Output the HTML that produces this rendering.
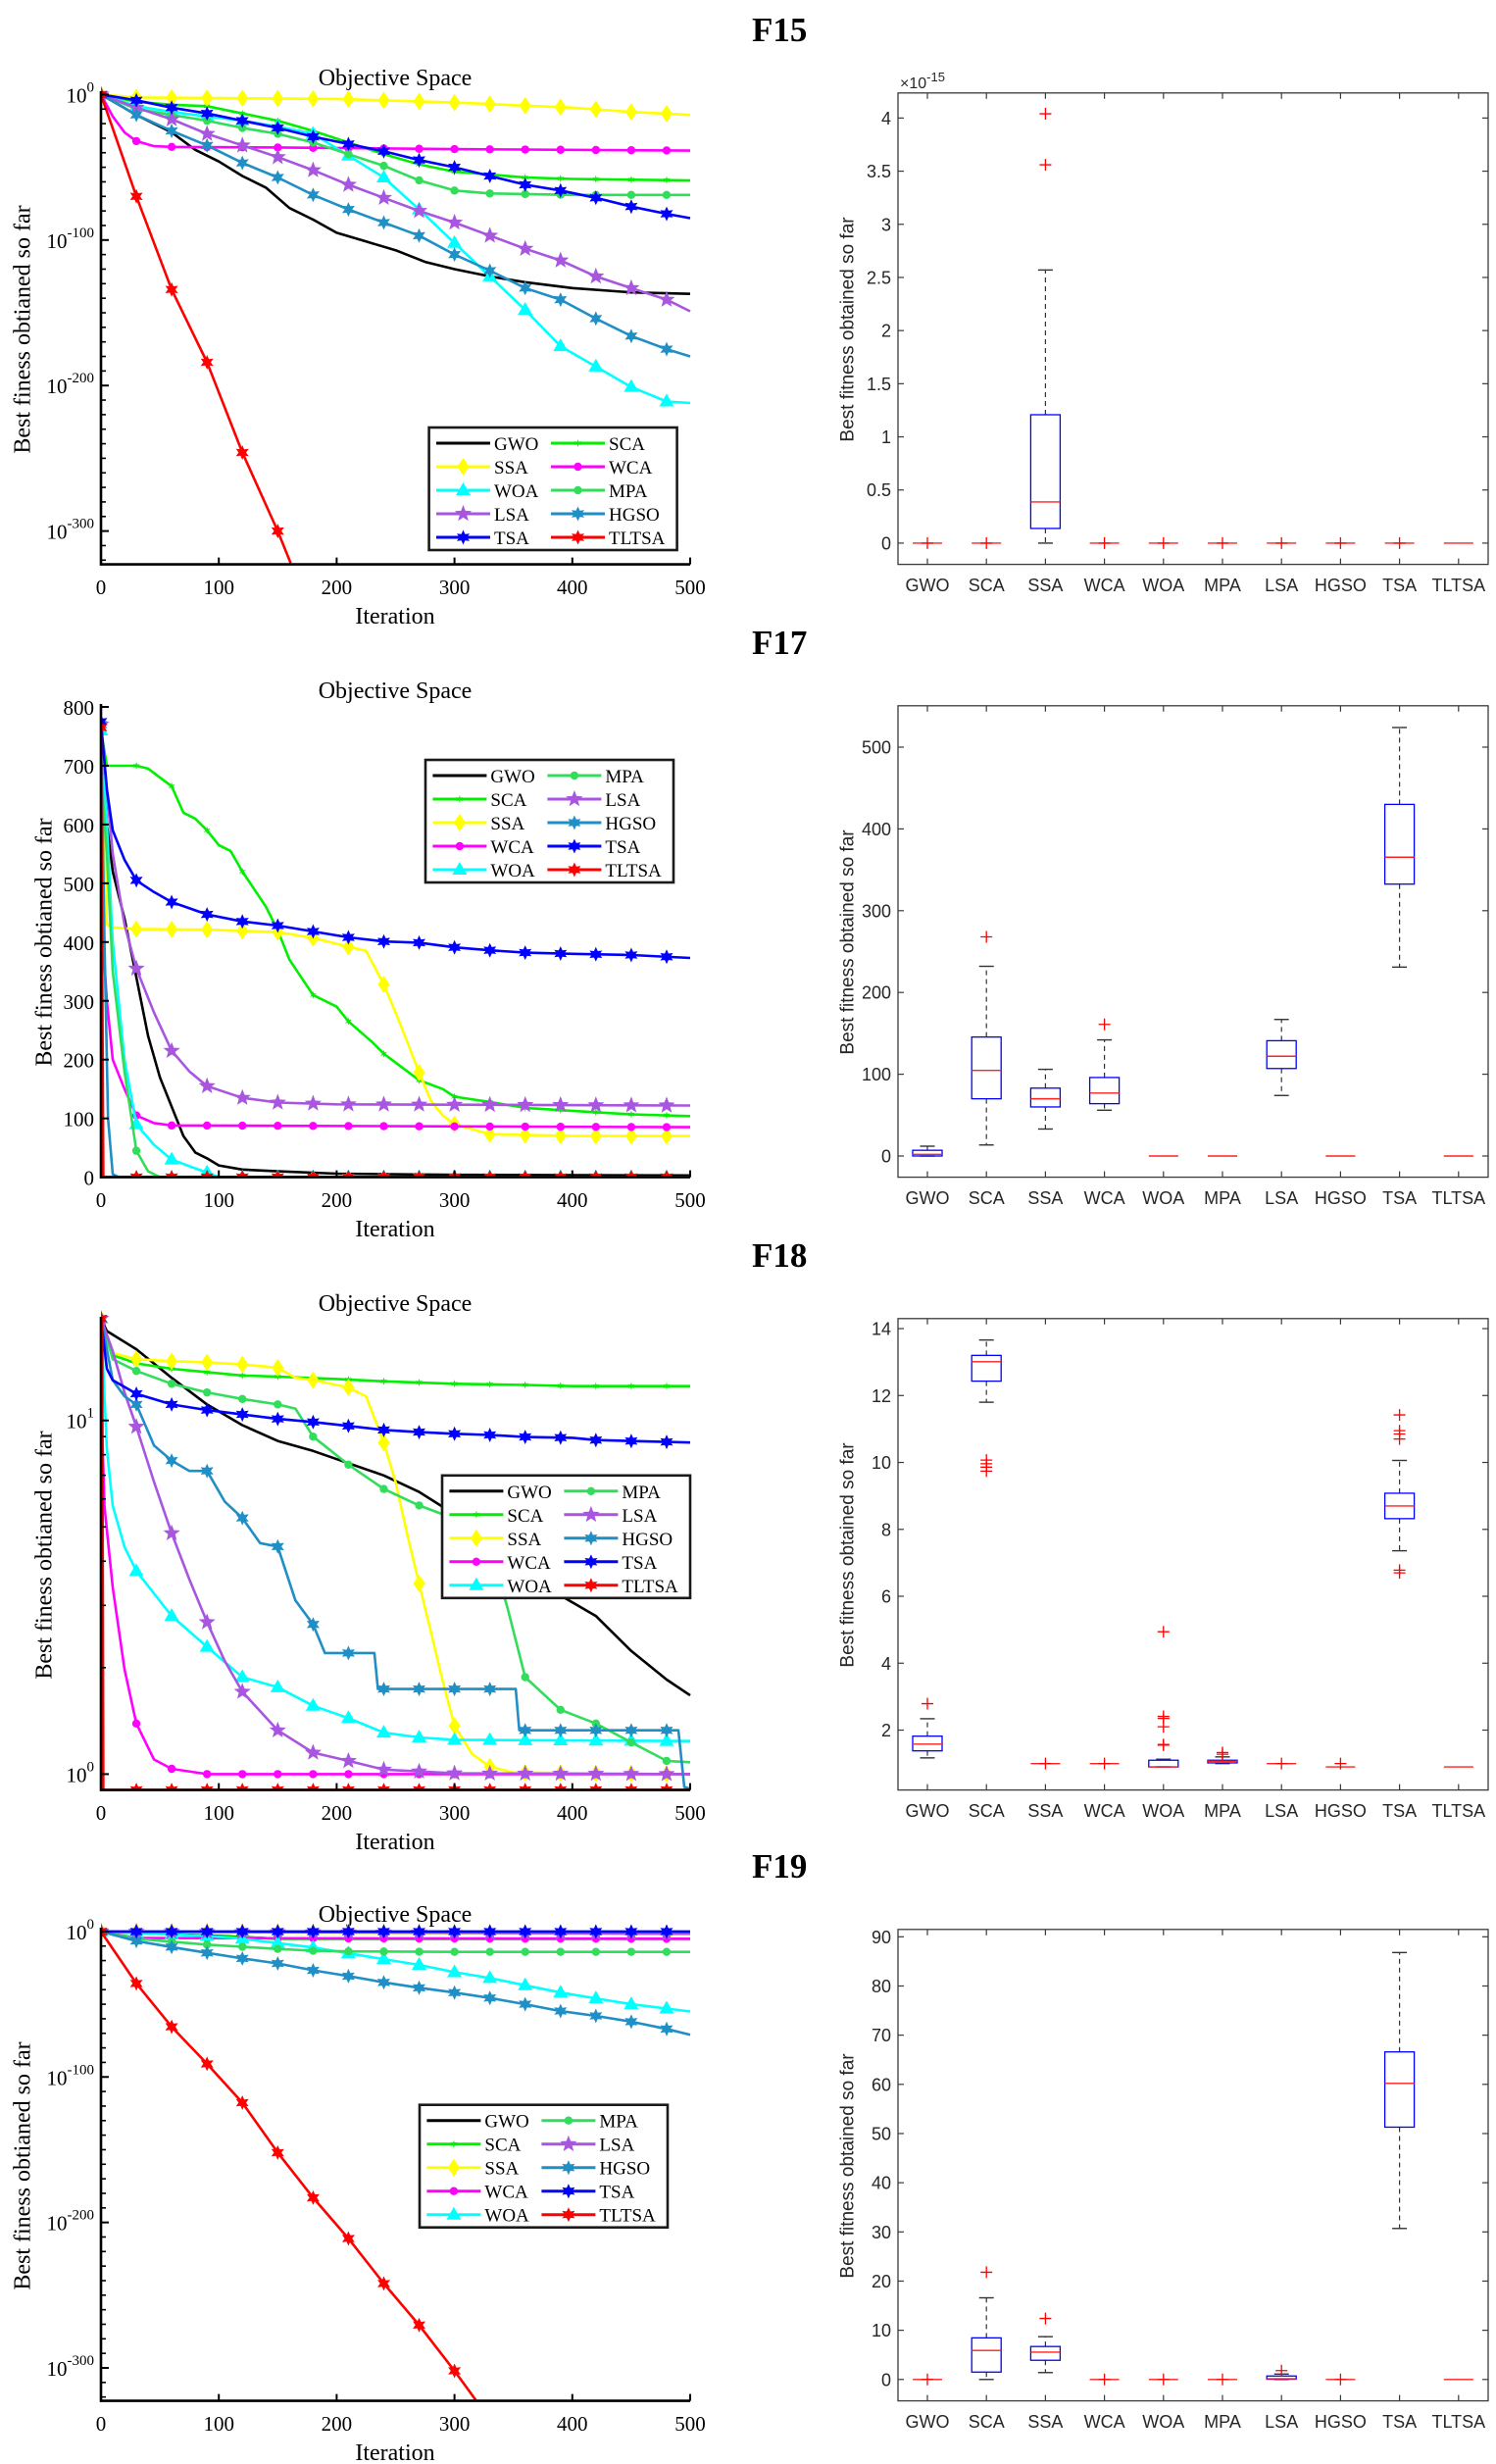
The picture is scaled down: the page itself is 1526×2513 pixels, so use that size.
<!DOCTYPE html>
<html><head><meta charset="utf-8"><title>Convergence curves and boxplots F15-F19</title>
<style>
html,body{margin:0;padding:0;background:#fff;}
body{width:1526px;height:2513px;overflow:hidden;}
svg{display:block;}
.tnr{font-family:"Liberation Serif",serif;}
.ari{font-family:"Liberation Sans",sans-serif;}
</style></head>
<body>
<svg id="root" width="1526" height="2513" viewBox="0 0 1526 2513" xmlns="http://www.w3.org/2000/svg"></svg>
<script>
// ---------- shared categories ----------
const CATS = ['GWO','SCA','SSA','WCA','WOA','MPA','LSA','HGSO','TSA','TLTSA'];
const X_TICKS = [0,100,200,300,400,500];

// ---------- F15 convergence (iteration, best fitness) ----------
const F15_GWO = [[0,1],[30,1e-14],[60,1e-26],[80,1e-38],[100,1e-46],[120,1e-56],[140,1e-64],[160,1e-78],[180,1e-86],[200,1e-95],[225,1e-101],[250,1e-107],[275,1e-115],[300,1e-120],[330,1e-125],[360,1e-129],[400,1e-133],[450,1e-136],[500,1e-137]];
const F15_SCA = [[0,1],[30,1e-5],[60,1e-7],[90,1e-8],[120,1e-13],[150,1e-18],[180,1e-25],[210,1e-33],[240,1e-41],[270,1e-48],[300,1e-53],[330,1e-55],[360,1e-57],[400,1e-58],[500,1e-59]];
const F15_SSA = [[0,1],[30,1e-2],[100,3e-3],[200,1e-3],[300,3e-6],[400,1e-9],[450,1e-12],[500,1e-14]];
const F15_WCA = [[0,1],[10,1e-15],[20,1e-26],[30,1e-32],[45,3e-36],[60,1e-36],[150,4e-37],[300,3e-38],[500,3e-39]];
const F15_WOA = [[0,1],[30,1e-8],[60,1e-12],[90,1e-15],[120,1e-18],[150,1e-22],[180,1e-27],[210,1e-42],[240,1e-57],[270,1e-79],[300,1e-102],[330,1e-125],[360,1e-148],[390,1e-173],[420,1e-187],[450,1e-201],[480,1e-211],[500,1e-212]];
const F15_MPA = [[0,1],[30,1e-10],[60,1e-14],[90,1e-18],[120,1e-23],[150,1e-27],[180,1e-33],[210,1e-41],[240,1e-49],[270,1e-59],[300,1e-66],[330,1e-68],[400,1e-69],[500,1e-69]];
const F15_LSA = [[0,1],[30,1e-9],[60,1e-17],[90,1e-27],[120,1e-35],[150,1e-43],[180,1e-52],[210,1e-62],[240,1e-71],[270,1e-80],[300,1e-88],[330,1e-97],[360,1e-106],[390,1e-114],[420,1e-125],[450,1e-133],[480,1e-141],[500,1e-149]];
const F15_HGSO = [[0,1],[30,1e-14],[60,1e-25],[90,1e-35],[120,1e-47],[150,1e-57],[180,1e-69],[210,1e-79],[240,1e-88],[270,1e-97],[300,1e-110],[330,1e-121],[360,1e-133],[390,1e-141],[420,1e-154],[450,1e-166],[480,1e-175],[500,1e-180]];
const F15_TSA = [[0,1],[30,1e-4],[60,1e-9],[90,1e-13],[120,1e-18],[150,1e-23],[180,1e-29],[210,1e-34],[240,1e-39],[270,1e-45],[300,1e-50],[330,1e-56],[360,1e-62],[390,1e-66],[420,1e-71],[450,1e-77],[480,1e-82],[500,1e-85]];
const F15_TLTSA = [[0,1],[30,1e-70],[60,1e-134],[90,1e-184],[120,1e-246],[150,1e-300],[161,1e-322]];

// ---------- F17 convergence ----------
const F17_GWO = [[0,770],[5,600],[10,520],[20,440],[30,340],[40,240],[50,170],[60,120],[70,70],[80,42],[90,32],[100,20],[120,13],[150,10],[200,6],[300,4],[500,3]];
const F17_SCA = [[0,760],[5,700],[30,700],[40,695],[50,680],[60,665],[70,620],[80,610],[90,590],[100,565],[110,555],[120,520],[130,490],[140,460],[150,420],[160,370],[170,340],[180,310],[200,290],[210,265],[230,230],[240,210],[260,180],[270,165],[290,150],[300,137],[330,128],[360,118],[400,113],[450,107],[500,104]];
const F17_SSA = [[0,770],[5,430],[10,425],[30,422],[90,421],[120,419],[150,417],[180,407],[210,392],[225,385],[240,328],[250,280],[260,230],[270,178],[280,130],[290,105],[300,90],[330,73],[400,70],[500,70]];
const F17_WCA = [[0,450],[5,300],[10,200],[20,150],[30,105],[45,92],[60,88],[500,85]];
const F17_WOA = [[0,760],[5,600],[10,400],[20,200],[30,90],[45,55],[60,30],[80,15],[90,8],[100,0],[500,0]];
const F17_MPA = [[0,690],[5,550],[10,350],[20,180],[30,45],[40,10],[50,0],[500,0]];
const F17_LSA = [[0,770],[10,550],[20,430],[30,355],[45,280],[60,215],[75,180],[90,155],[120,135],[150,127],[200,124],[500,122]];
const F17_HGSO = [[0,770],[3,400],[6,100],[10,5],[15,0],[500,0]];
const F17_TSA = [[0,775],[5,660],[10,590],[20,540],[30,505],[45,485],[60,468],[90,447],[120,435],[150,428],[180,418],[210,408],[240,401],[270,399],[300,391],[330,386],[360,382],[400,380],[450,378],[500,373]];
const F17_TLTSA = [[0,765],[2,0],[500,0]];

// ---------- F18 convergence ----------
const F18_GWO = [[0,19.4],[5,17.9],[30,15.9],[60,13.2],[90,11.1],[120,9.7],[150,8.75],[180,8.2],[210,7.57],[240,6.99],[270,6.28],[300,5.43],[330,4.57],[360,3.75],[390,3.2],[420,2.8],[450,2.23],[480,1.85],[500,1.67]];
const F18_SCA = [[0,19.4],[10,15.3],[30,14.5],[60,14.0],[90,13.7],[120,13.4],[150,13.3],[200,13.1],[240,12.9],[300,12.7],[360,12.6],[400,12.5],[500,12.5]];
const F18_SSA = [[0,19.4],[10,15.5],[30,14.9],[60,14.7],[90,14.6],[120,14.4],[150,14.1],[165,13.2],[180,13.0],[210,12.4],[225,11.7],[240,8.65],[250,6.7],[260,4.75],[270,3.46],[280,2.52],[290,1.83],[300,1.37],[315,1.14],[330,1.05],[350,1.01],[500,1.0]];
const F18_WCA = [[0,12.0],[3,5.7],[10,3.37],[20,1.98],[30,1.39],[45,1.1],[60,1.035],[90,1.0],[500,1.0]];
const F18_WOA = [[0,19.4],[5,8.3],[10,5.74],[20,4.39],[30,3.75],[60,2.8],[90,2.29],[120,1.88],[150,1.76],[180,1.56],[210,1.44],[240,1.31],[270,1.27],[300,1.25],[500,1.24]];
const F18_MPA = [[0,19.4],[10,14.9],[30,13.8],[60,12.7],[90,12.0],[120,11.5],[150,11.1],[165,10.8],[180,9.0],[210,7.5],[240,6.4],[270,5.75],[290,5.43],[330,4.39],[345,2.95],[360,1.88],[390,1.52],[420,1.39],[450,1.23],[480,1.09],[500,1.08]];
const F18_LSA = [[0,19.4],[10,15.7],[20,12.0],[30,9.6],[45,6.7],[60,4.8],[75,3.55],[90,2.69],[105,2.09],[120,1.71],[150,1.33],[180,1.15],[210,1.09],[240,1.03],[300,1.005],[500,1.0]];
const F18_HGSO = [[0,19.4],[10,13.0],[20,11.7],[30,11.1],[45,8.5],[60,7.7],[75,7.2],[90,7.2],[105,5.9],[120,5.3],[135,4.5],[150,4.4],[165,3.1],[180,2.65],[190,2.2],[232,2.2],[235,1.74],[352,1.74],[355,1.33],[490,1.33],[495,0.92],[500,0.91]];
const F18_TSA = [[0,19.4],[5,14.0],[10,13.0],[30,11.9],[60,11.1],[90,10.7],[120,10.4],[150,10.1],[180,9.9],[210,9.65],[240,9.4],[270,9.27],[300,9.17],[330,9.1],[360,8.98],[400,8.93],[420,8.8],[500,8.66]];
const F18_TLTSA = [[0,19.4],[1,19.4],[2,0.902],[500,0.902]];

// ---------- F19 convergence ----------
const F19_GWO = [[0,1],[100,1e-3],[150,1e-5],[500,1e-5]];
const F19_SCA = [[0,1],[150,1e-5],[500,1e-5]];
const F19_SSA = [[0,1],[500,1e-2]];
const F19_WCA = [[0,1],[30,3e-5],[500,1e-5]];
const F19_WOA = [[0,1],[60,1e-2],[90,1e-3],[120,1e-5],[150,1e-8],[180,1e-11],[210,1e-15],[240,1e-19],[270,1e-23],[300,1e-28],[330,1e-32],[360,1e-37],[390,1e-42],[420,1e-46],[450,1e-50],[480,1e-53],[500,1e-55]];
const F19_MPA = [[0,1],[30,1e-5],[60,1e-7],[90,1e-9],[120,3e-11],[150,1e-12],[180,6e-14],[210,2e-14],[300,1e-14],[500,1e-14]];
const F19_LSA = [[0,1],[500,3e-2]];
const F19_HGSO = [[0,1],[30,3e-7],[60,2e-11],[90,2e-15],[120,3e-19],[150,1e-22],[180,2e-27],[210,2e-31],[240,1e-35],[270,2e-39],[300,1e-42],[330,2e-46],[360,1e-50],[390,2e-55],[420,1e-58],[450,1e-62],[480,1e-67],[500,1e-71]];
const F19_TSA = [[0,1],[500,1]];
const F19_TLTSA = [[0,1],[30,2e-36],[60,3e-66],[90,1e-91],[120,2e-118],[150,1e-152],[180,1e-183],[210,1e-211],[240,1e-242],[270,3e-271],[300,1e-302],[318,1e-322]];

// ---------- boxplot stats (per category, order = CATS) ----------
const F15_Q1  = [0,0,0.138,0,0,0,0,0,0,0];
const F15_MED = [0,0,0.387,0,0,0,0,0,0,0];
const F15_Q3  = [0,0,1.208,0,0,0,0,0,0,0];
const F15_LO  = [0,0,0,0,0,0,0,0,0,0];
const F15_HI  = [0,0,2.57,0,0,0,0,0,0,0];
const F15_OUT = [[0],[0],[4.04,3.56],[0],[0],[0],[0],[0],[0],[]];

const F17_Q1  = [0,70,60,64,0,0,107,0,332.5,0];
const F17_MED = [2,104.7,70,77,0,0,122,0,365.4,0];
const F17_Q3  = [7,145.5,83,96,0,0,141,0,430,0];
const F17_LO  = [0,13.5,33,56,0,0,74,0,231,0];
const F17_HI  = [12,232,106,142,0,0,167,0,524,0];
const F17_OUT = [[],[268],[],[161],[],[],[],[],[],[]];

const F18_Q1  = [1.38,12.43,1.0,1.0,0.9,1.02,1.0,0.9,8.32,0.9];
const F18_MED = [1.58,13.01,1.0,1.0,0.9,1.07,1.0,0.9,8.7,0.9];
const F18_Q3  = [1.82,13.2,1.0,1.0,1.1,1.1,1.0,0.9,9.08,0.9];
const F18_LO  = [1.17,11.8,1.0,1.0,0.9,1.0,1.0,0.9,7.36,0.9];
const F18_HI  = [2.34,13.66,1.0,1.0,1.13,1.2,1.0,0.9,10.06,0.9];
const F18_OUT = [[2.79],[10.07,9.96,9.86,9.74],[1.0],[1.0],[4.94,2.41,2.35,2.1,1.57,1.55],[1.28,1.33],[1.0],[1.0],[11.42,10.95,10.85,10.7,6.78,6.7],[]];

const F19_Q1  = [0,1.5,3.9,0,0,0,0.05,0,51.3,0];
const F19_MED = [0,5.9,5.56,0,0,0,0.15,0,60.2,0];
const F19_Q3  = [0,8.46,6.7,0,0,0,0.7,0,66.6,0];
const F19_LO  = [0,0,1.4,0,0,0,0,0,30.7,0];
const F19_HI  = [0,16.6,8.7,0,0,0,1.1,0,86.8,0];
const F19_OUT = [[0],[21.8],[12.4],[0],[0],[0],[1.8],[0],[],[]];

// ---------- styling ----------
const COLOR = {GWO:'#000000',SCA:'#00f000',SSA:'#ffff00',WCA:'#ff00ff',WOA:'#00ffff',MPA:'#33dd5c',LSA:'#a855e0',HGSO:'#1f8fc6',TSA:'#0000ff',TLTSA:'#ff0000'};
const MARK = {GWO:null,SCA:'x',SSA:'diamond',WCA:'dot',WOA:'tri',MPA:'dot',LSA:'star5',HGSO:'star6',TSA:'star6',TLTSA:'star6'};
const NS = 'http://www.w3.org/2000/svg';
const root = document.getElementById('root');

function mk(tag, attrs, parent){
  const el = document.createElementNS(NS, tag);
  for (const k in attrs) el.setAttribute(k, attrs[k]);
  (parent||root).appendChild(el);
  return el;
}
function txt(str, attrs, parent){
  const t = mk('text', attrs, parent);
  t.textContent = str;
  return t;
}
function linScale(d0,d1,r0,r1){ return v => r0 + (v-d0)*(r1-r0)/(d1-d0); }

function starPts(cx,cy,n,ro,ri,rot){
  const p=[];
  for(let i=0;i<2*n;i++){
    const a = rot + i*Math.PI/n;
    const r = i%2===0?ro:ri;
    p.push((cx+r*Math.sin(a)).toFixed(1)+','+(cy-r*Math.cos(a)).toFixed(1));
  }
  return p.join(' ');
}
function drawMarker(g, kind, x, y, color){
  let el=null;
  if(kind==='dot') el = mk('circle',{cx:x,cy:y,r:4.2,fill:color},g);
  else if(kind==='x') el = mk('polygon',{points:starPts(x,y,6,4,1.6,0),fill:color},g);
  else if(kind==='diamond') el = mk('polygon',{points:`${x},${y-9} ${x+6},${y} ${x},${y+9} ${x-6},${y}`,fill:color},g);
  else if(kind==='tri') el = mk('polygon',{points:`${x},${y-8} ${x+7.5},${y+5} ${x-7.5},${y+5}`,fill:color},g);
  else if(kind==='star5') el = mk('polygon',{points:starPts(x,y,5,9,3.8,0),fill:color},g);
  else if(kind==='star6') el = mk('polygon',{points:starPts(x,y,6,7.5,3.8,0),fill:color},g);
  return el;
}
function interp(pts, it, isLog){
  const f = v => isLog ? (v>0 ? Math.log10(v) : -400) : v;
  if(it<=pts[0][0]) return f(pts[0][1]);
  for(let i=1;i<pts.length;i++){
    if(it<=pts[i][0]){
      const a=pts[i-1], b=pts[i];
      const t=(it-a[0])/(b[0]-a[0]);
      return f(a[1])+(f(b[1])-f(a[1]))*t;
    }
  }
  return null;
}

// ---------- convergence chart ----------
function convChart(cfg){
  const off = cfg.off;
  const X0=103, X1=704, BOT=575.6+off, TOP=93+off;
  const g = mk('g',{});
  
  
  const xs = linScale(0,500,X0,X1);
  const ys = linScale(cfg.dom[0],cfg.dom[1],cfg.rng[0]+off,cfg.rng[1]+off);
  const tv = v => cfg.log ? (v>0?Math.log10(v):-400) : v;

  const title = txt('Objective Space',{x:403,y:off+87,'text-anchor':'middle','font-size':24,class:'tnr',fill:'#000'},g);
  
  

  // clip
  const cid = 'clip'+cfg.id;
  const cp = mk('clipPath',{id:cid},g);
  mk('rect',{x:X0,y:off+60,width:X1-X0+8,height:BOT-off-60},cp);

  // series
  const sg = mk('g',{'clip-path':`url(#${cid})`},g);
  for(const name of CATS){
    const pts = cfg.series[name];
    const d = pts.map((p,i)=>(i?'L':'M')+xs(p[0]).toFixed(1)+','+ys(Math.max(tv(p[1]),cfg.clipMin)).toFixed(1)).join(' ');
    const path = mk('path',{d:d,fill:'none',stroke:COLOR[name],'stroke-width':2.6,'stroke-linejoin':'round'},sg);
    
    
    if(MARK[name]){
      const last = pts[pts.length-1][0];
      for(let it=0; it<=480 && it<=last; it+=30){
        const lv = interp(pts,it,cfg.log);
        if(lv===null || lv<cfg.clipMin) continue;
        const m = drawMarker(sg, MARK[name], xs(it), ys(lv), COLOR[name]);
        
        
      }
    }
  }

  // axes
  const ax = mk('path',{d:`M${X0},${TOP} L${X0},${BOT} L${X1},${BOT}`,fill:'none',stroke:'#000','stroke-width':2.6},g);
  
  
  for(const t of X_TICKS){
    const x=xs(t);
    mk('line',{x1:x,y1:BOT,x2:x,y2:BOT-7,stroke:'#000','stroke-width':2},g);
    const lb = txt(String(t),{x:x,y:off+606,'text-anchor':'middle','font-size':21,class:'tnr'},g);
    
    
  }
  for(const t of cfg.minor){
    const y=ys(t);
    mk('line',{x1:X0,y1:y,x2:X0+5,y2:y,stroke:'#000','stroke-width':1.6},g);
  }
  cfg.yticks.forEach((t,i)=>{
    const y=ys(t);
    mk('line',{x1:X0,y1:y,x2:X0+8,y2:y,stroke:'#000','stroke-width':2},g);
    const lb = txt(cfg.log?'10':String(t),{x:96,y:y+8,'text-anchor':'end','font-size':21,class:'tnr'},g);
    if(cfg.log){
      const sp = mk('tspan',{dy:-11,'font-size':15},lb);
      sp.textContent = String(t);
    }
    
    
  });
  const xl = txt('Iteration',{x:403,y:off+636,'text-anchor':'middle','font-size':24,class:'tnr'},g);
  
  
  const yl = txt('Best finess obtianed so far',{x:0,y:0,transform:`translate(${cfg.ylx},${off+336}) rotate(-90)`,'text-anchor':'middle',dy:'0.35em','font-size':24,class:'tnr'},g);
  
  

  // legend
  const lg = mk('g',{},g);
  
  
  mk('rect',{x:cfg.lx,y:cfg.ly,width:253,height:125,fill:'#fff',stroke:'#1a1a1a','stroke-width':2.6},lg);
  cfg.legendOrder.forEach((name,i)=>{
    const col = cfg.rowMajor ? i%2 : Math.floor(i/5);
    const row = cfg.rowMajor ? Math.floor(i/2) : i%5;
    const y = cfg.ly + 16 + row*24;
    const lx0 = cfg.lx + (col? 124.4 : 7.4);
    const e = mk('g',{},lg);
    
    
    mk('line',{x1:lx0,y1:y,x2:lx0+55,y2:y,stroke:COLOR[name],'stroke-width':3},e);
    if(MARK[name]) drawMarker(e, MARK[name], lx0+27.5, y, COLOR[name]);
    txt(name,{x:lx0+59,y:y+7,'font-size':19,class:'tnr'},e);
  });
}

// ---------- boxplot chart ----------
function boxChart(cfg){
  const off=cfg.off;
  const L=916, R=1518, T=94.8+off, B=575.6+off;
  const g = mk('g',{});
  
  
  const ys = linScale(cfg.ymin,cfg.ymax,B,T);
  const xs = i => 946 + i*60.2;
  const h = txt(cfg.id,{x:767,y:off+42,'font-size':35,'font-weight':'bold',class:'tnr'},g);
  
  
  const frame = mk('rect',{x:L,y:T,width:R-L,height:B-T,fill:'none',stroke:'#3a3a3a','stroke-width':1.3},g);
  
  
  cfg.yticks.forEach((t,i)=>{
    const y=ys(t);
    mk('line',{x1:L,y1:y,x2:L+6,y2:y,stroke:'#3a3a3a','stroke-width':1.2},g);
    mk('line',{x1:R,y1:y,x2:R-6,y2:y,stroke:'#3a3a3a','stroke-width':1.2},g);
    const lb = txt(cfg.ylabels[i],{x:909,y:y+6.5,'text-anchor':'end','font-size':18,class:'ari',fill:'#262626'},g);
    
    
  });
  CATS.forEach((c,i)=>{
    const x=xs(i);
    mk('line',{x1:x,y1:B,x2:x,y2:B-6,stroke:'#3a3a3a','stroke-width':1.2},g);
    mk('line',{x1:x,y1:T,x2:x,y2:T+6,stroke:'#3a3a3a','stroke-width':1.2},g);
    const lb = txt(c,{x:x,y:off+603,'text-anchor':'middle','font-size':18,class:'ari',fill:'#262626'},g);
    
    
    const bg = mk('g',{},g);
    
    
    const q1=ys(cfg.q1[i]), q3=ys(cfg.q3[i]), md=ys(cfg.med[i]), lo=ys(cfg.lo[i]), hi=ys(cfg.hi[i]);
    if(hi<q3-0.5) mk('line',{x1:x,y1:q3,x2:x,y2:hi,stroke:'#333','stroke-width':1.2,'stroke-dasharray':'5,4'},bg);
    if(lo>q1+0.5) mk('line',{x1:x,y1:q1,x2:x,y2:lo,stroke:'#333','stroke-width':1.2,'stroke-dasharray':'5,4'},bg);
    if(Math.abs(hi-lo)>0.5){
      mk('line',{x1:x-7.5,y1:hi,x2:x+7.5,y2:hi,stroke:'#333','stroke-width':1.4},bg);
      mk('line',{x1:x-7.5,y1:lo,x2:x+7.5,y2:lo,stroke:'#333','stroke-width':1.4},bg);
    }
    if(Math.abs(q1-q3)>0.5) mk('rect',{x:x-15,y:q3,width:30,height:q1-q3,fill:'none',stroke:'#0000ff','stroke-width':1.3},bg);
    mk('line',{x1:x-15,y1:md,x2:x+15,y2:md,stroke:'#ff2020','stroke-width':1.4},bg);
    for(const o of cfg.out[i]){
      const y=ys(o);
      mk('path',{d:`M${x-6},${y} L${x+6},${y} M${x},${y-6} L${x},${y+6}`,stroke:'#ff0000','stroke-width':1.3},bg);
    }
  });
  const yl = txt('Best fitness obtained so far',{x:0,y:0,transform:`translate(864,${off+336}) rotate(-90)`,'text-anchor':'middle',dy:'0.35em','font-size':19,class:'ari',fill:'#262626'},g);
  
  
  if(cfg.expo){
    const e = txt('\u00d710',{x:918,y:off+90,'font-size':16,class:'ari',fill:'#262626'},g);
    const sp = mk('tspan',{dy:-7,'font-size':13},e);
    sp.textContent = cfg.expo;
    
    
  }
}

const rowMajorOrder = ['GWO','SCA','SSA','WCA','WOA','MPA','LSA','HGSO','TSA','TLTSA'];
function range(a,b,s){const r=[];for(let v=a;v<=b+1e-9;v+=s)r.push(+v.toFixed(6));return r;}
const logMinor = [];
for(let d=-10; d>=-320; d-=10){ if(d%100!==0) logMinor.push(d); }
const f18Minor = [];
for(let k=2;k<=9;k++) f18Minor.push(Math.log10(k));
for(let k=2;k<=1.9;k++) f18Minor.push(1+Math.log10(k));

convChart({id:'F15',off:0,log:true,dom:[0,-300],rng:[96.4,541.6],clipMin:-330,yticks:[0,-100,-200,-300],minor:logMinor,ylx:22,
  lx:437.6,ly:436,rowMajor:true,legendOrder:rowMajorOrder,
  series:{GWO:F15_GWO,SCA:F15_SCA,SSA:F15_SSA,WCA:F15_WCA,WOA:F15_WOA,MPA:F15_MPA,LSA:F15_LSA,HGSO:F15_HGSO,TSA:F15_TSA,TLTSA:F15_TLTSA}});
convChart({id:'F17',off:625,log:false,dom:[0,800],rng:[575.6,96],clipMin:-10,yticks:[0,100,200,300,400,500,600,700,800],minor:[],ylx:44,
  lx:434,ly:775,rowMajor:false,legendOrder:['GWO','SCA','SSA','WCA','WOA','MPA','LSA','HGSO','TSA','TLTSA'],
  series:{GWO:F17_GWO,SCA:F17_SCA,SSA:F17_SSA,WCA:F17_WCA,WOA:F17_WOA,MPA:F17_MPA,LSA:F17_LSA,HGSO:F17_HGSO,TSA:F17_TSA,TLTSA:F17_TLTSA}});
convChart({id:'F18',off:1250,log:true,dom:[0,1],rng:[559.4,198.7],clipMin:-0.06,yticks:[0,1],minor:f18Minor,ylx:44,
  lx:451,ly:1504.8,rowMajor:false,legendOrder:['GWO','SCA','SSA','WCA','WOA','MPA','LSA','HGSO','TSA','TLTSA'],
  series:{GWO:F18_GWO,SCA:F18_SCA,SSA:F18_SSA,WCA:F18_WCA,WOA:F18_WOA,MPA:F18_MPA,LSA:F18_LSA,HGSO:F18_HGSO,TSA:F18_TSA,TLTSA:F18_TLTSA}});
convChart({id:'F19',off:1873,log:true,dom:[0,-300],rng:[96.9,542],clipMin:-330,yticks:[0,-100,-200,-300],minor:logMinor,ylx:22,
  lx:428,ly:2146.7,rowMajor:false,legendOrder:['GWO','SCA','SSA','WCA','WOA','MPA','LSA','HGSO','TSA','TLTSA'],
  series:{GWO:F19_GWO,SCA:F19_SCA,SSA:F19_SSA,WCA:F19_WCA,WOA:F19_WOA,MPA:F19_MPA,LSA:F19_LSA,HGSO:F19_HGSO,TSA:F19_TSA,TLTSA:F19_TLTSA}});

boxChart({id:'F15',off:0,ymin:-0.2,ymax:4.236,yticks:range(0,4,0.5),ylabels:['0','0.5','1','1.5','2','2.5','3','3.5','4'],expo:'-15',
  q1:F15_Q1,med:F15_MED,q3:F15_Q3,lo:F15_LO,hi:F15_HI,out:F15_OUT});
boxChart({id:'F17',off:625,ymin:-25.9,ymax:550.6,yticks:[0,100,200,300,400,500],ylabels:['0','100','200','300','400','500'],
  q1:F17_Q1,med:F17_MED,q3:F17_Q3,lo:F17_LO,hi:F17_HI,out:F17_OUT});
boxChart({id:'F18',off:1250,ymin:0.21,ymax:14.3,yticks:[2,4,6,8,10,12,14],ylabels:['2','4','6','8','10','12','14'],
  q1:F18_Q1,med:F18_MED,q3:F18_Q3,lo:F18_LO,hi:F18_HI,out:F18_OUT});
boxChart({id:'F19',off:1873,ymin:-4.35,ymax:91.5,yticks:[0,10,20,30,40,50,60,70,80,90],ylabels:['0','10','20','30','40','50','60','70','80','90'],
  q1:F19_Q1,med:F19_MED,q3:F19_Q3,lo:F19_LO,hi:F19_HI,out:F19_OUT});
</script>
</body></html>
